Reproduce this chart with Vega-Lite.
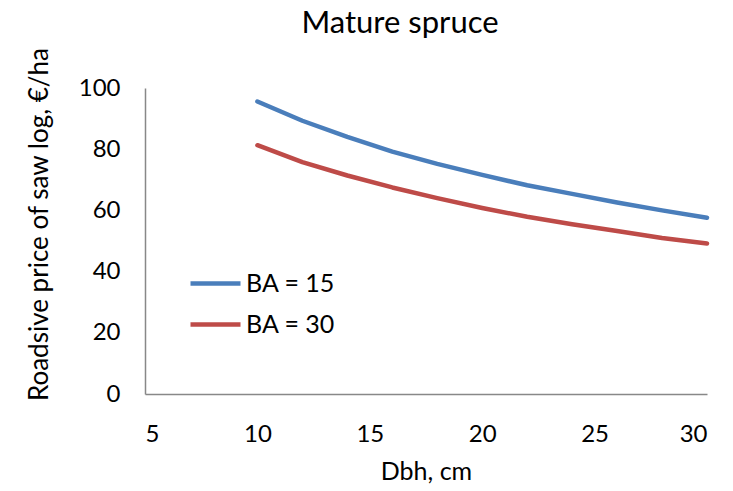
{
  "$schema": "https://vega.github.io/schema/vega-lite/v6.json",
  "autosize": "none",
  "width": 562,
  "height": 306,
  "padding": {"left": 145, "top": 88, "right": 26, "bottom": 97},
  "background": "white",
  "config": {
    "font": "Lato",
    "view": {"stroke": null}
  },
  "title": {
    "text": "Mature spruce",
    "fontSize": 31,
    "fontWeight": "normal",
    "font": "Lato",
    "color": "black",
    "frame": "group",
    "offset": 0,
    "dx": -26,
    "dy": -4,
    "anchor": "middle"
  },
  "data": {
    "values": [
      {"dbh": 10, "price": 95.6, "series": "BA = 15"},
      {"dbh": 12, "price": 89.3, "series": "BA = 15"},
      {"dbh": 14, "price": 84.0, "series": "BA = 15"},
      {"dbh": 16, "price": 79.2, "series": "BA = 15"},
      {"dbh": 18, "price": 75.2, "series": "BA = 15"},
      {"dbh": 20, "price": 71.6, "series": "BA = 15"},
      {"dbh": 22, "price": 68.2, "series": "BA = 15"},
      {"dbh": 24, "price": 65.4, "series": "BA = 15"},
      {"dbh": 26, "price": 62.6, "series": "BA = 15"},
      {"dbh": 28, "price": 60.0, "series": "BA = 15"},
      {"dbh": 30, "price": 57.6, "series": "BA = 15"},
      {"dbh": 10, "price": 81.3, "series": "BA = 30"},
      {"dbh": 12, "price": 75.8, "series": "BA = 30"},
      {"dbh": 14, "price": 71.4, "series": "BA = 30"},
      {"dbh": 16, "price": 67.5, "series": "BA = 30"},
      {"dbh": 18, "price": 64.0, "series": "BA = 30"},
      {"dbh": 20, "price": 60.8, "series": "BA = 30"},
      {"dbh": 22, "price": 57.9, "series": "BA = 30"},
      {"dbh": 24, "price": 55.5, "series": "BA = 30"},
      {"dbh": 26, "price": 53.3, "series": "BA = 30"},
      {"dbh": 28, "price": 51.0, "series": "BA = 30"},
      {"dbh": 30, "price": 49.2, "series": "BA = 30"}
    ]
  },
  "mark": {"type": "line", "strokeWidth": 4.5, "strokeCap": "round", "strokeJoin": "round"},
  "encoding": {
    "x": {
      "field": "dbh",
      "type": "quantitative",
      "scale": {"domain": [5, 30], "nice": false, "zero": false},
      "axis": {
        "title": "Dbh, cm",
        "values": [5, 10, 15, 20, 25, 30],
        "grid": false,
        "ticks": false,
        "domainColor": "#888888",
        "domainWidth": 1.5,
        "labelFontSize": 24,
        "labelColor": "black",
        "labelPadding": 28,
        "titleFontSize": 25,
        "titleFontWeight": "normal",
        "titleColor": "black",
        "titlePadding": 13
      }
    },
    "y": {
      "field": "price",
      "type": "quantitative",
      "scale": {"domain": [0, 100], "nice": false},
      "axis": {
        "title": "Roadsive price of saw log,  €/ha",
        "values": [0, 20, 40, 60, 80, 100],
        "grid": false,
        "ticks": false,
        "domainColor": "#888888",
        "domainWidth": 1.5,
        "labelFontSize": 24,
        "labelColor": "black",
        "labelPadding": 25,
        "titleFontSize": 26,
        "titleFontWeight": "normal",
        "titleColor": "black",
        "titleX": -93,
        "titleY": 136
      }
    },
    "color": {
      "field": "series",
      "type": "nominal",
      "scale": {"domain": ["BA = 15", "BA = 30"], "range": ["#4A7EBB", "#BE4B48"]},
      "legend": {
        "title": null,
        "orient": "none",
        "legendX": 43,
        "legendY": 168,
        "symbolType": "stroke",
        "symbolSize": 2500,
        "symbolStrokeWidth": 4.5,
        "labelFontSize": 25,
        "labelColor": "black",
        "labelOffset": 3,
        "rowPadding": -4
      }
    }
  }
}
